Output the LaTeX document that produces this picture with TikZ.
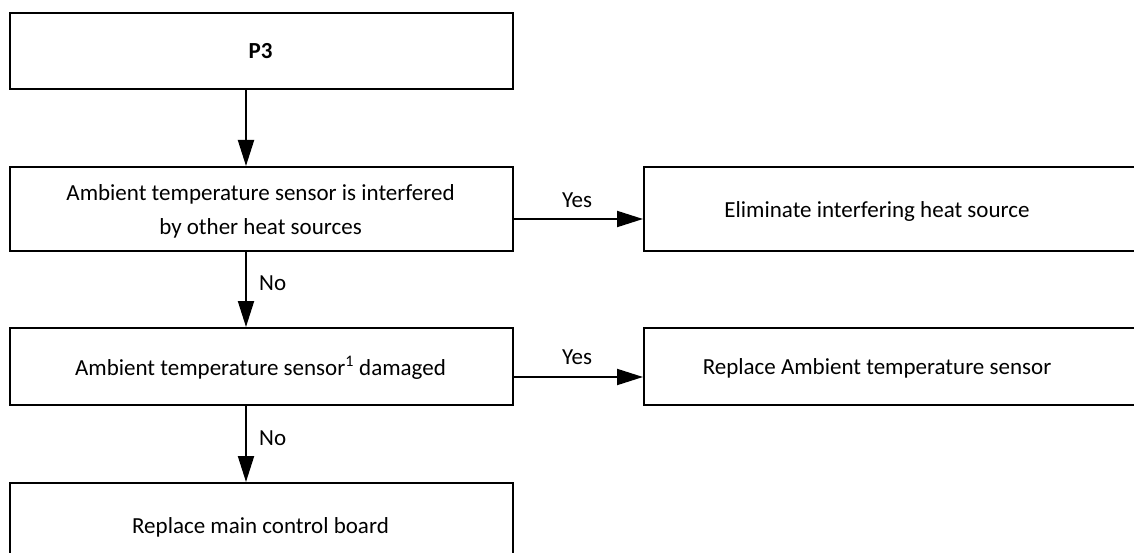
\documentclass[tikz,border=0pt]{standalone}
\usepackage{fontspec}
\setmainfont{Carlito}
\usetikzlibrary{arrows.meta,calc}
\begin{document}
\begin{tikzpicture}[x=1pt,y=-1pt,
  box/.style={draw,line width=1.6pt,rectangle,inner sep=0pt,anchor=north west},
  txt/.style={font=\fontsize{23}{34}\selectfont,align=center,inner sep=0pt},
  arr/.style={line width=2pt,-{Triangle[length=26pt,width=16pt]}}]
\useasboundingbox (0,0) rectangle (1134,553);
% boxes
\node[box,minimum width=503pt,minimum height=76pt] (p3) at (9,12) {};
\node[box,minimum width=503pt,minimum height=84pt] (b2) at (9,166) {};
\node[box,minimum width=520pt,minimum height=84pt] (r1) at (643,166) {};
\node[box,minimum width=503pt,minimum height=77pt] (b3) at (9,327) {};
\node[box,minimum width=520pt,minimum height=77pt] (r2) at (643,327) {};
\node[box,minimum width=503pt,minimum height=100pt] (b4) at (9,482) {};
% texts
\node[txt,font=\fontsize{23}{34}\selectfont\bfseries] (t1) at (260.5,51) {P3};
\node[txt] (t2) at (260.5,211) {Ambient temperature sensor is interfered\\by other heat sources};
\node[txt] (t3) at (877,211) {Eliminate interfering heat source};
\node[txt] (t4) at (260.5,368) {Ambient temperature sensor\textsuperscript{1} damaged};
\node[txt] (t5) at (877,368) {Replace Ambient temperature sensor};
\node[txt] (t6) at (260.5,527) {Replace main control board};
% connector positions
\coordinate (xa) at (246,0);
\coordinate (ya) at (0,219);
\coordinate (yb) at (0,377);
% arrows
\draw[arr] (p3.south -| xa) -- (b2.north -| xa);
\draw[arr] (b2.south -| xa) -- (b3.north -| xa);
\draw[arr] (b3.south -| xa) -- (b4.north -| xa);
\draw[arr] (b2.east |- ya) -- (r1.west |- ya);
\draw[arr] (b3.east |- yb) -- (r2.west |- yb);
% labels
\node[txt] (y1) at (577,200) {Yes};
\node[txt] (y2) at (577,357) {Yes};
\node[txt,anchor=west] (n1) at (259,283) {No};
\node[txt,anchor=west] (n2) at (259,438) {No};
\end{tikzpicture}
\end{document}
